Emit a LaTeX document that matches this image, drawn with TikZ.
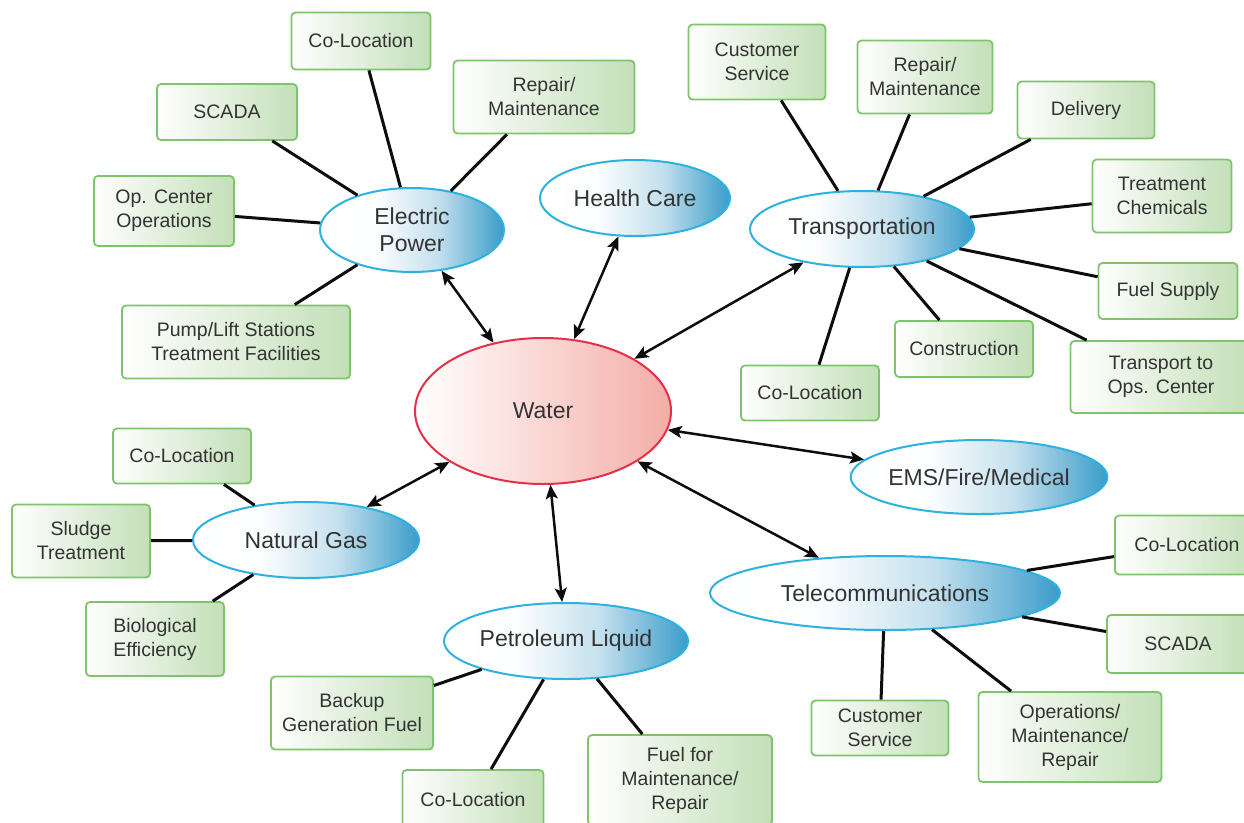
\documentclass[tikz,border=0pt]{standalone}
\usepackage{fontspec}
\setmainfont{Liberation Sans}
\usetikzlibrary{arrows.meta,shapes.geometric}
\definecolor{boxline}{HTML}{7DC46B}
\definecolor{boxfill}{HTML}{C3DFB8}
\definecolor{ellline}{HTML}{2DB2DF}
\definecolor{ellmid}{HTML}{C4E0EE}
\definecolor{ellblue}{HTML}{3A9CCA}
\definecolor{watline}{HTML}{E6304A}
\definecolor{watfill}{HTML}{F4ADA7}
\definecolor{txt}{HTML}{333333}
\pgfdeclarehorizontalshading{ellshade}{100bp}{color(0bp)=(white); color(25bp)=(white); color(40bp)=(white!96!ellmid); color(57bp)=(ellmid); color(75bp)=(ellblue); color(100bp)=(ellblue)}
\begin{document}
\begin{tikzpicture}[x=1pt,y=-1pt,
  box/.style={draw=boxline, line width=1.8pt, rounded corners=4pt, left color=white, right color=boxfill, align=center, text=txt, font=\fontsize{19.5}{24}\selectfont, inner sep=0pt},
  ell/.style={ellipse, draw=ellline, line width=2pt, shade, shading=ellshade, align=center, text=txt, font=\fontsize{23}{27}\selectfont, inner sep=0pt},
  water/.style={ellipse, draw=watline, line width=2pt, left color=white, right color=watfill, align=center, text=txt, font=\fontsize{23}{27}\selectfont, inner sep=0pt},
  link/.style={line width=3pt, black!95},
  dbl/.style={line width=2.5pt, black!95, {Stealth[length=14pt,width=12pt,inset=3pt]}-{Stealth[length=14pt,width=12pt,inset=3pt]}}
]
\useasboundingbox (0,0) rectangle (1244,822);
\clip (0,0) rectangle (1244,822);

% central and hub ellipses
\node[water, minimum width=256, minimum height=146] (w) at (543,411) {Water};
\node[ell, minimum width=184, minimum height=84] (ep) at (412,230) {Electric\\Power};
\node[ell, minimum width=190, minimum height=76] (hc) at (635,198) {Health Care};
\node[ell, minimum width=224, minimum height=76] (tr) at (862,229) {Transportation};
\node[ell, minimum width=244, minimum height=74] (ems) at (979,477) {EMS/Fire/Medical};
\node[ell, minimum width=226, minimum height=76] (ng) at (306,540) {Natural Gas};
\node[ell, minimum width=240, minimum height=76] (pl) at (566,641) {Petroleum Liquid};
\node[ell, minimum width=350, minimum height=74] (tel) at (885,593) {Telecommunications};

% Electric Power boxes
\node[box, minimum width=139, minimum height=57] (epco) at (361,41) {Co-Location};
\node[box, minimum width=140, minimum height=56] (epsc) at (227,112) {SCADA};
\node[box, minimum width=181, minimum height=73] (eprep) at (544,97) {Repair/\\Maintenance};
\node[box, minimum width=140, minimum height=70] (epop) at (164,211) {Op. Center\\Operations};
\node[box, minimum width=228, minimum height=73] (eppump) at (236,342) {Pump/Lift Stations\\Treatment Facilities};

% Transportation boxes
\node[box, minimum width=137, minimum height=75] (trcs) at (757,62) {Customer\\Service};
\node[box, minimum width=135, minimum height=73] (trrep) at (925,77) {Repair/\\Maintenance};
\node[box, minimum width=137, minimum height=57] (trdel) at (1086,110) {Delivery};
\node[box, minimum width=139, minimum height=73] (trchem) at (1162,196) {Treatment\\Chemicals};
\node[box, minimum width=139, minimum height=56] (trfuel) at (1168,291) {Fuel Supply};
\node[box, minimum width=181, minimum height=72] (trops) at (1161,377) {Transport to\\Ops. Center};
\node[box, minimum width=138, minimum height=56] (trcons) at (964,349) {Construction};
\node[box, minimum width=138, minimum height=55] (trco) at (810,393) {Co-Location};

% Natural Gas boxes
\node[box, minimum width=138, minimum height=55] (ngco) at (182,456) {Co-Location};
\node[box, minimum width=138, minimum height=73] (ngsl) at (81,541) {Sludge\\Treatment};
\node[box, minimum width=138, minimum height=74] (ngbio) at (155,639) {Biological\\Efficiency};

% Petroleum Liquid boxes
\node[box, minimum width=162, minimum height=73] (plbk) at (352,713) {Backup\\Generation Fuel};
\node[box, minimum width=141, minimum height=60] (plco) at (473,800) {Co-Location};
\node[box, minimum width=184, minimum height=90] (plfuel) at (680,780) {Fuel for\\Maintenance/\\Repair};

% Telecommunications boxes
\node[box, minimum width=144, minimum height=59] (telco) at (1187,545) {Co-Location};
\node[box, minimum width=142, minimum height=58] (telsc) at (1178,644) {SCADA};
\node[box, minimum width=137, minimum height=55] (telcs) at (880,728) {Customer\\Service};
\node[box, minimum width=183, minimum height=90] (telops) at (1070,737) {Operations/\\Maintenance/\\Repair};

% links
\foreach \b in {epco,epsc,eprep,epop,eppump}{\draw[link] (\b) -- (ep);}
\foreach \b in {trcs,trrep,trdel,trchem,trfuel,trops,trcons,trco}{\draw[link] (\b) -- (tr);}
\foreach \b in {ngco,ngsl,ngbio}{\draw[link] (\b) -- (ng);}
\foreach \b in {plbk,plco,plfuel}{\draw[link] (\b) -- (pl);}
\foreach \b in {telco,telsc,telcs,telops}{\draw[link] (\b) -- (tel);}

% arrows to water
\foreach \h in {ep,hc,tr,ems,tel,pl,ng}{\draw[dbl] (\h) -- (w);}
\end{tikzpicture}
\end{document}
